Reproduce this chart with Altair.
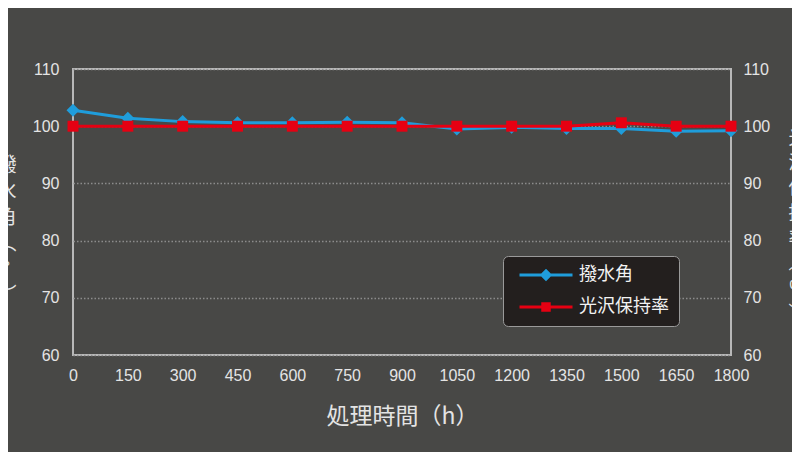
import altair as alt
import pandas as pd

# ---- data ----
hours = [0, 150, 300, 450, 600, 750, 900, 1050, 1200, 1350, 1500, 1650, 1800]
contact_angle = [102.8, 101.4, 100.8, 100.6, 100.6, 100.7, 100.6, 99.5, 99.8, 99.6, 99.6, 99.1, 99.2]
gloss_retention = [100.0, 100.0, 100.0, 100.0, 100.0, 100.0, 100.0, 100.0, 100.0, 100.0, 100.6, 100.0, 100.0]
series_names = ["撥水角", "光沢保持率"]
x_ticks = [0, 150, 300, 450, 600, 750, 900, 1050, 1200, 1350, 1500, 1650, 1800]
y_ticks = [60, 70, 80, 90, 100, 110]
left_title = ["撥", "水", "角", "︵", "°", "︶"]
right_title = ["光", "沢", "保", "持", "率", "︵", "%", "︶"]
x_title = "処理時間（h）"

BLUE = "#1f9ddb"
RED = "#e60012"
BG = "#484846"
TXT = "#e4e4e4"
CJK = "Noto Sans CJK JP"
NUM = "Liberation Sans"

df = pd.DataFrame({
    "hours": hours * 2,
    "series": [series_names[0]] * len(hours) + [series_names[1]] * len(hours),
    "value": contact_angle + gloss_retention,
})

xscale = alt.Scale(domain=[0, 1800], nice=False, zero=True)
yscale = alt.Scale(domain=[60, 110], nice=False, zero=False)

x_enc = alt.X("hours:Q", scale=xscale,
              axis=alt.Axis(values=x_ticks, format="d", title=x_title, grid=False, domain=False, ticks=False,
                            labelFont=NUM, labelFontSize=16, labelColor=TXT, labelPadding=12,
                            labelFlush=False, labelOverlap=False,
                            titleFont=CJK, titleFontSize=23, titleColor=TXT, titlePadding=22,
                            titleFontWeight="normal"))

blue = alt.Chart(df).transform_filter(alt.datum.series == series_names[0]).mark_line(
    color=BLUE, strokeWidth=3,
    point=alt.OverlayMarkDef(shape="diamond", size=170, filled=True, color=BLUE, opacity=1),
).encode(
    x=x_enc,
    y=alt.Y("value:Q", scale=yscale,
            axis=alt.Axis(orient="left", values=y_ticks, format="d", title=left_title, grid=True,
                          gridColor="#8c8c8c", gridDash=[1.5, 2], gridWidth=1.3,
                          domain=False, ticks=False,
                          labelFont=NUM, labelFontSize=16, labelColor=TXT, labelPadding=14,
                          titleFont=CJK, titleFontSize=20, titleColor=TXT, titleFontWeight="normal",
                          titleAngle=0, titleX=-67, titleY=86, titleAlign="center",
                          titleBaseline="top", titleLineHeight=26)),
)

red = alt.Chart(df).transform_filter(alt.datum.series == series_names[1]).mark_line(
    color=RED, strokeWidth=3,
    point=alt.OverlayMarkDef(shape="square", size=120, filled=True, color=RED, opacity=1),
).encode(
    x=x_enc,
    y=alt.Y("value:Q", scale=yscale,
            axis=alt.Axis(orient="right", values=y_ticks, format="d", title=right_title, grid=False,
                          domain=False, ticks=False,
                          labelFont=NUM, labelFontSize=16, labelColor=TXT, labelPadding=12,
                          titleFont=CJK, titleFontSize=18, titleColor=TXT, titleFontWeight="normal",
                          titleAngle=0, titleX=66, titleY=60, titleAlign="center",
                          titleBaseline="top", titleLineHeight=25)),
)

PATH_D = "M-5.3,-0.3H5.3V0.3H-5.3Z M0,-1.25L1.25,0L0,1.25L-1.25,0Z"
PATH_S = "M-5.3,-0.3H5.3V0.3H-5.3Z M-0.95,-0.95H0.95V0.95H-0.95Z"

leg = dict(title=None, orient="none", legendX=430, legendY=187,
           fillColor="#231f1e", strokeColor="#9a9a9a", cornerRadius=5, padding=10,
           symbolSize=100, symbolOffset=24, labelOffset=24, rowPadding=14,
           labelFont=CJK, labelFontSize=18, labelColor="#f2f2f2", symbolStrokeWidth=0)

legend_layer = alt.Chart(df).transform_filter("false").mark_point(filled=True, opacity=1).encode(
    color=alt.Color("series:N", scale=alt.Scale(domain=series_names, range=[BLUE, RED]),
                    legend=alt.Legend(**leg)),
    shape=alt.Shape("series:N", scale=alt.Scale(domain=series_names, range=[PATH_D, PATH_S]),
                    legend=alt.Legend(**leg)),
)

chart = alt.layer(blue, red, legend_layer).resolve_scale(y="independent").properties(
    width=658, height=286,
    background=BG,
    padding={"left": 65, "top": 61, "right": 61, "bottom": 97},
    autosize=alt.AutoSizeParams(type="none"),
).configure_view(
    stroke="#b8b8b8", strokeWidth=2,
)

chart.save("out.html", embed_options={"renderer": "svg", "actions": False})
